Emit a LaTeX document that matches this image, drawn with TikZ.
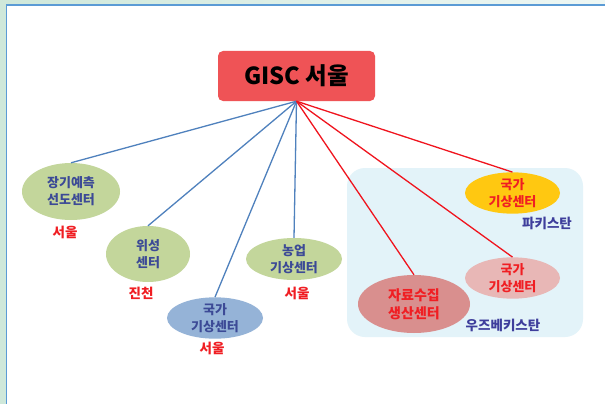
\documentclass[tikz,border=0pt]{standalone}
\usepackage{fontspec}
\newfontfamily\kr{Noto Sans CJK KR}
\usetikzlibrary{shapes.geometric}
\definecolor{bgout}{HTML}{CFE8DA}
\definecolor{bgout2}{HTML}{EEF7F4}
\definecolor{panelborder}{HTML}{5B9BD5}
\definecolor{regionfill}{HTML}{E3F3F9}
\definecolor{boxred}{HTML}{EF5356}
\definecolor{lineblue}{HTML}{4F81BD}
\definecolor{linered}{HTML}{F0141E}
\definecolor{ellgreen}{HTML}{C3D69B}
\definecolor{ellblue}{HTML}{95B3D7}
\definecolor{ellyellow}{HTML}{FFC811}
\definecolor{ellpink}{HTML}{E8B7B6}
\definecolor{elldark}{HTML}{D98F8E}
\definecolor{txtblue}{HTML}{3C4A96}
\definecolor{txtred}{HTML}{F01E23}
\definecolor{cntry}{HTML}{3E3E9C}
\tikzset{
  ell/.style={ellipse, inner sep=0pt, align=center, font=\kr\bfseries\fontsize{13}{17}\selectfont},
  bluetxt/.style={text=txtblue},
  redtxt/.style={text=txtred},
  citylbl/.style={font=\kr\bfseries\fontsize{13.5}{15}\selectfont, text=txtred, inner sep=0pt},
  countrylbl/.style={font=\kr\bfseries\fontsize{13.5}{15}\selectfont, text=cntry, inner sep=0pt},
  bluelink/.style={draw=lineblue, line width=1.3pt},
  redlink/.style={draw=linered, line width=1.3pt},
}
\begin{document}
\begin{tikzpicture}[x=1pt, y=-1pt]
\useasboundingbox (0,0) rectangle (605,404);
% outer background
\shade[left color=bgout, right color=bgout2] (0,0) rectangle (605,404);
% white panel
\fill[white] (6.5,5) rectangle (610,410);
\draw[panelborder, line width=1.6pt] (6.5,410) -- (6.5,5) -- (610,5);
% region
\fill[regionfill, rounded corners=18pt] (347,168) rectangle (583,337);
% main box
\node[fill=boxred, rounded corners=5pt, minimum width=157pt, minimum height=50pt, inner sep=0pt,
      font=\kr\bfseries\fontsize{23.5}{26}\selectfont] (gisc) at (296.5,76) {GISC 서울};
\coordinate (apex) at (gisc.south);
% ellipses
\node[ell, bluetxt, fill=ellgreen, minimum width=98pt, minimum height=57pt] (e1) at (71,191.5) {장기예측\\선도센터};
\node[ell, bluetxt, fill=ellgreen, minimum width=84pt, minimum height=56pt] (e2) at (148,254) {위성\\센터};
\node[ell, bluetxt, fill=ellblue, minimum width=96pt, minimum height=40pt] (e3) at (215,318) {국가\\기상센터};
\node[ell, bluetxt, fill=ellgreen, minimum width=96pt, minimum height=42pt] (e4) at (294,259) {농업\\기상센터};
\node[ell, redtxt, fill=ellyellow, minimum width=95pt, minimum height=40pt] (e5) at (512.5,193) {국가\\기상센터};
\node[ell, redtxt, fill=ellpink, minimum width=95pt, minimum height=40pt] (e6) at (512.5,278) {국가\\기상센터};
\node[ell, redtxt, fill=elldark, minimum width=112pt, minimum height=58pt,
      font=\kr\bfseries\fontsize{14}{18}\selectfont] (e7) at (414,304) {자료수집\\생산센터};
% links
\draw[bluelink] (apex) -- (e1.north);
\draw[bluelink] (apex) -- (e2.north);
\draw[bluelink] (apex) -- (e3.north);
\draw[bluelink] (apex) -- (e4.north);
\draw[redlink] (apex) -- (e5.north);
\draw[redlink] (apex) -- (e6.north);
\draw[redlink] (apex) -- (e7.north);
% labels
\node[citylbl] (l1) at (65,232) {서울};
\node[citylbl] (l2) at (141,293) {진천};
\node[citylbl] (l3) at (212,348) {서울};
\node[citylbl] (l4) at (297,293) {서울};
\node[countrylbl] (c1) at (547,223) {파키스탄};
\node[countrylbl] (c2) at (503,325) {우즈베키스탄};
\end{tikzpicture}
\end{document}
